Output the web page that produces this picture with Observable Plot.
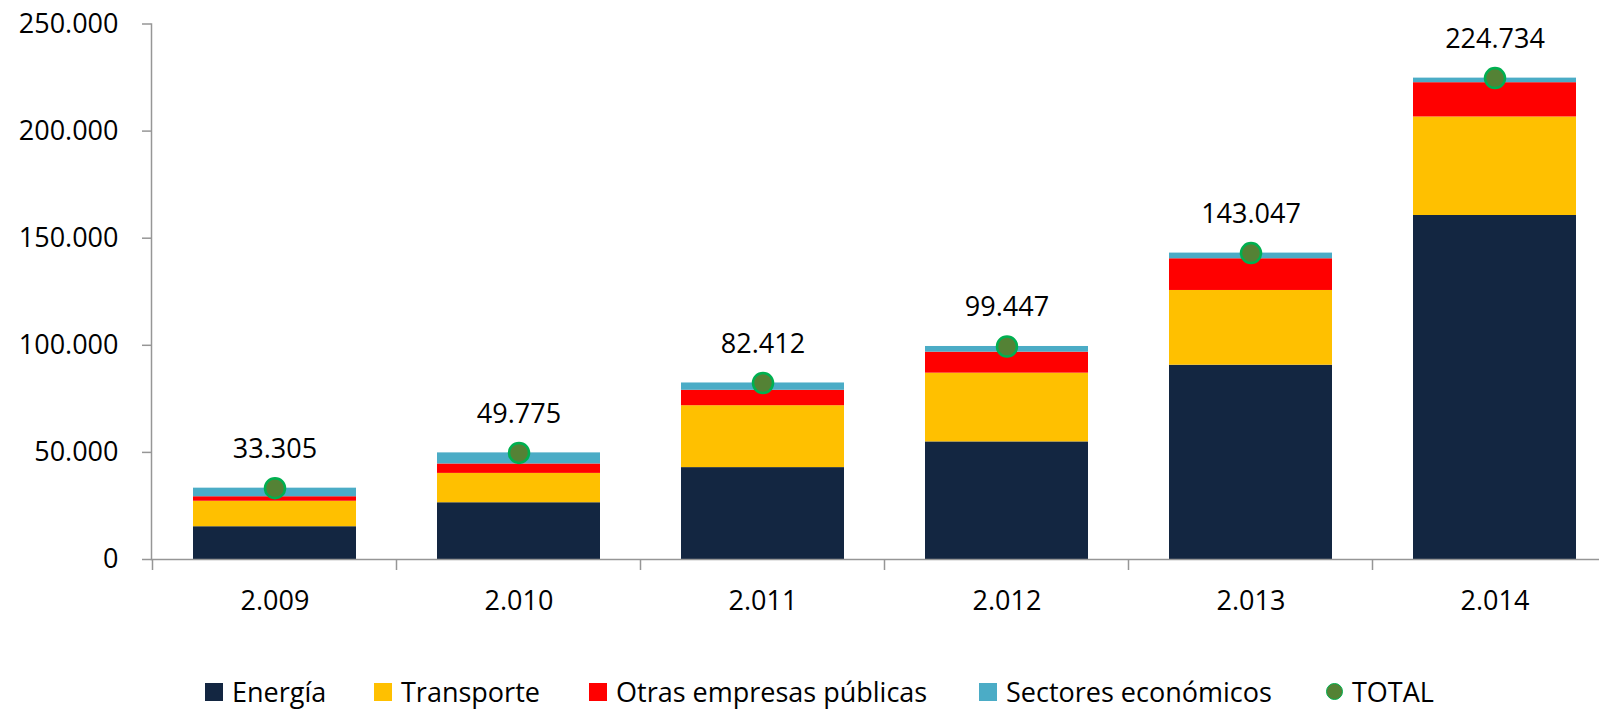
<!DOCTYPE html>
<html>
<head>
<meta charset="utf-8">
<script src="https://cdn.jsdelivr.net/npm/d3@7"></script>
<script src="https://cdn.jsdelivr.net/npm/@observablehq/plot@0.6"></script>
<style>
  html, body { margin: 0; padding: 0; background: #fff; }
  #wrap { position: relative; width: 1599px; height: 710px; font-family: "Open Sans", sans-serif; }
  #legend { position: absolute; left: 0; top: 665px; width: 1599px; height: 45px; }
  .item { position: absolute; top: 13px; display: flex; align-items: center; font-size: 27px; line-height: 27px; color: #000; white-space: nowrap; }
  .sw { width: 18px; height: 18px; margin-right: 9px; }
  .dot { width: 15px; height: 15px; border-radius: 50%; margin-right: 9px; }
</style>
</head>
<body>
<div id="wrap">
  <div id="chart"></div>
  <div id="legend"></div>
</div>
<script>
const years = ["2.009", "2.010", "2.011", "2.012", "2.013", "2.014"];
const seriesNames = ["Energía", "Transporte", "Otras empresas públicas", "Sectores económicos"];
const seriesColors = ["#132641", "#FFC000", "#FF0000", "#4BACC6"];
const energia    = [15300, 26500, 42900, 54900, 90700, 160600];
const transporte = [11900, 13700, 28900, 32100, 34900, 46000];
const otras      = [2100, 4400, 7200, 9800, 14800, 16000];
const sectores   = [4005, 5175, 3412, 2647, 2647, 2134];
const totals     = [33305, 49775, 82412, 99447, 143047, 224734];
const yTicks     = [0, 50000, 100000, 150000, 200000, 250000];
const totalLabel = "TOTAL";

const seriesValues = [energia, transporte, otras, sectores];
const rows = [];
seriesNames.forEach((s, si) => years.forEach((y, i) => rows.push({year: y, serie: s, value: seriesValues[si][i]})));
const totalRows = years.map((y, i) => ({year: y, total: totals[i]}));

const locale = d3.formatLocale({decimal: ",", thousands: ".", grouping: [3], currency: ["", ""]});
const fmt = locale.format(",.0f");

const W = 1599, H = 665;
const mLeft = 151, mTop = 23.5, baseY = 559;
const axisColor = "#969696";

function boundaryTicks(index, scales, values, dims) {
  const x = scales.x;
  const bw = typeof x.bandwidth === "function" ? x.bandwidth() : x.bandwidth;
  const st = typeof x.step === "function" ? x.step() : (x.step ?? bw / (1 - 1/3));
  const half = (st - bw) / 2;
  const edges = years.map(y => x(y) - half);
  edges.push(x(years[years.length - 1]) + bw + half);
  const y0 = scales.y(0);
  const g = d3.create("svg:g");
  g.selectAll("line").data(edges).join("line")
    .attr("x1", d => d).attr("x2", d => d)
    .attr("y1", y0).attr("y2", y0 + 11)
    .attr("stroke", axisColor).attr("stroke-width", 1.5);
  return g.node();
}

const plot = Plot.plot({
  width: W,
  height: H,
  marginLeft: mLeft,
  marginRight: 0,
  marginTop: mTop,
  marginBottom: H - baseY,
  style: {fontFamily: "Open Sans, sans-serif", fontSize: "27px", color: "#000", background: "#fff"},
  x: {domain: years, range: [mLeft, 1617], paddingInner: 1/3, paddingOuter: 1/6, label: null},
  y: {domain: [0, 250000], label: null},
  color: {domain: seriesNames, range: seriesColors},
  marks: [
    Plot.barY(rows, {x: "year", y: "value", fill: "serie", order: seriesNames}),
    Plot.frame({anchor: "left", stroke: axisColor, strokeWidth: 1.5}),
    Plot.ruleY([0], {stroke: axisColor, strokeWidth: 1.5}),
    boundaryTicks,
    Plot.axisY({ticks: yTicks, tickFormat: fmt, tickSize: 9, tickPadding: 24, stroke: axisColor, strokeWidth: 1.5, fontSize: 27, label: null}),
    Plot.axisX({tickSize: 0, tickPadding: 31, fontSize: 27, label: null}),
    Plot.dot(totalRows, {x: "year", y: "total", r: 10, fill: "#548235", stroke: "#00B050", strokeWidth: 2.5}),
    Plot.text(totalRows, {x: "year", y: "total", text: d => fmt(d.total), dy: -30, lineAnchor: "bottom", fontSize: 27, fill: "#000"})
  ]
});
document.getElementById("chart").appendChild(plot);

// legend
const legend = document.getElementById("legend");
const legendLefts = [205, 374, 589, 979];
seriesNames.forEach((s, i) => {
  const it = document.createElement("div");
  it.className = "item";
  it.style.left = legendLefts[i] + "px";
  it.innerHTML = `<span class="sw" style="background:${seriesColors[i]}"></span><span>${s}</span>`;
  legend.appendChild(it);
});
const it = document.createElement("div");
it.className = "item";
it.style.left = "1326px";
it.innerHTML = `<span class="dot" style="background:#548235;border:1.5px solid #00B050"></span><span>${totalLabel}</span>`;
legend.appendChild(it);
</script>
</body>
</html>
